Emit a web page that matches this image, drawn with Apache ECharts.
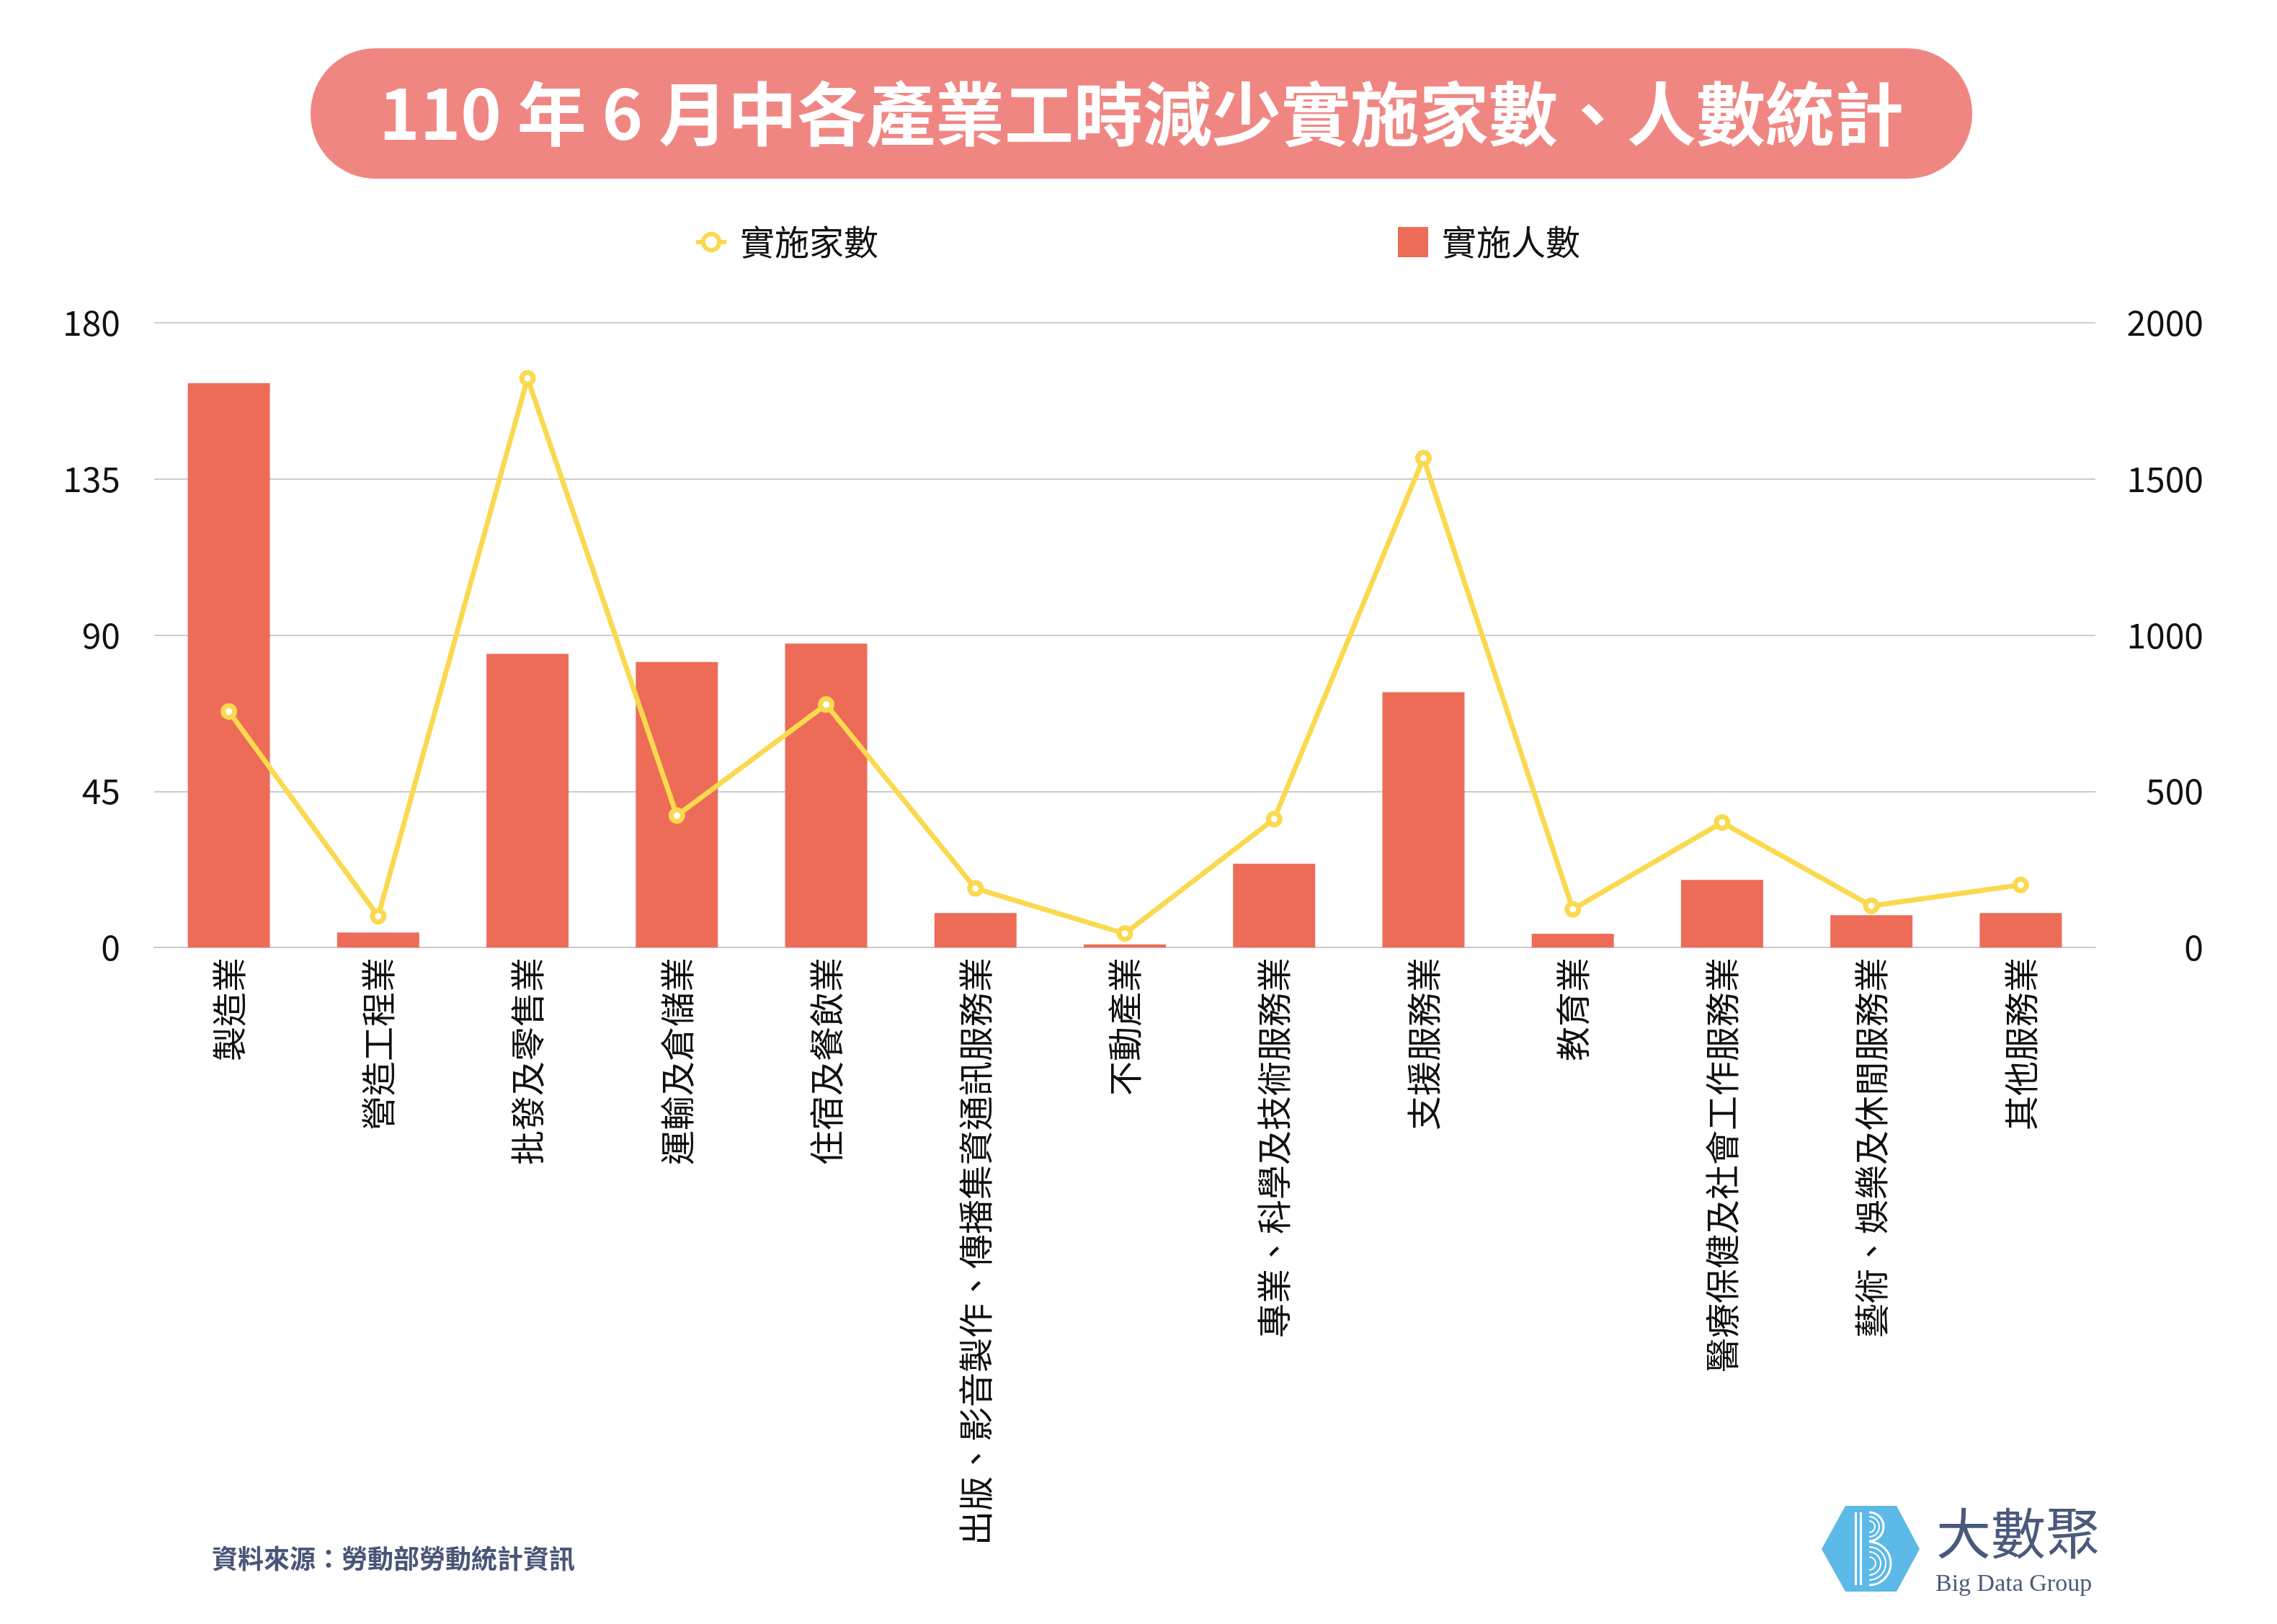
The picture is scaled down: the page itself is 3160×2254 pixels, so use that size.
<!DOCTYPE html>
<html>
<head>
<meta charset="utf-8">
<script src="https://cdn.jsdelivr.net/npm/echarts@6/dist/echarts.min.js"></script>
<style>
html,body{margin:0;padding:0;background:#fff;}
#chart{width:3160px;height:2254px;}
</style>
</head>
<body>
<div id="chart"></div>
<script>
var titleText = '110 年 6 月中各產業工時減少實施家數、人數統計';
var sourceText = '資料來源：勞動部勞動統計資訊';
var categories = ['製造業','營造工程業','批發及零售業','運輸及倉儲業','住宿及餐飲業','出版、影音製作、傳播集資通訊服務業','不動產業','專業、科學及技術服務業','支援服務業','教育業','醫療保健及社會工作服務業','藝術、娛樂及休閒服務業','其他服務業'];
var firmCounts = [68, 9, 164, 38, 70, 17, 4, 37, 141, 11, 36, 12, 18];
var workerCounts = [1807, 48, 940, 914, 973, 110, 10, 268, 817, 44, 216, 103, 110];
var leftTicks = [0, 45, 90, 135, 180];
var rightTicks = [0, 500, 1000, 1500, 2000];
var seriesNames = ['實施家數', '實施人數'];

var FONT = '"Noto Sans CJK TC", "Noto Sans", sans-serif';
var chart = echarts.init(document.getElementById('chart'));

var option = {
  backgroundColor: '#ffffff',
  textStyle: { fontFamily: FONT },
  legend: [
    {
      data: [seriesNames[0]],
      left: 958, top: 307,
      itemWidth: 42, itemHeight: 28,
      itemStyle: { borderWidth: 6 },
      lineStyle: { width: 6 },
      textStyle: { fontSize: 48, color: '#111', fontFamily: FONT, padding: [0,0,0,14] }
    },
    {
      data: [{ name: seriesNames[1], icon: 'rect' }],
      left: 1935, top: 307,
      itemWidth: 42, itemHeight: 42,
      textStyle: { fontSize: 48, color: '#111', fontFamily: FONT, padding: [0,0,0,14] }
    }
  ],
  grid: { left: 214, right: 252, top: 448, bottom: 939, containLabel: false },
  xAxis: {
    type: 'category',
    data: categories,
    axisLine: { lineStyle: { color: '#c8c8c8', width: 2 } },
    axisTick: { show: false },
    axisLabel: { rotate: 90, interval: 0, margin: 14, fontSize: 48, color: '#111', fontFamily: FONT }
  },
  yAxis: [
    {
      type: 'value', position: 'left',
      min: leftTicks[0], max: leftTicks[leftTicks.length - 1], interval: leftTicks[1] - leftTicks[0],
      axisLine: { show: false }, axisTick: { show: false },
      splitLine: { lineStyle: { color: '#cccccc', width: 2 } },
      axisLabel: { fontSize: 48, color: '#111', margin: 47, fontFamily: FONT, formatter: function (v) { return String(v); } }
    },
    {
      type: 'value', position: 'right',
      min: rightTicks[0], max: rightTicks[rightTicks.length - 1], interval: rightTicks[1] - rightTicks[0],
      axisLine: { show: false }, axisTick: { show: false },
      splitLine: { show: false },
      axisLabel: { fontSize: 48, color: '#111', margin: 150, align: 'right', fontFamily: FONT, formatter: function (v) { return String(v); } }
    }
  ],
  series: [
    {
      name: seriesNames[1],
      type: 'bar',
      yAxisIndex: 1,
      data: workerCounts,
      barWidth: '55%',
      itemStyle: { color: '#ec6c58' },
      z: 2
    },
    {
      name: seriesNames[0],
      type: 'line',
      yAxisIndex: 0,
      data: firmCounts,
      symbol: 'circle',
      symbolSize: 16,
      showAllSymbol: true,
      lineStyle: { color: '#fad94f', width: 7 },
      itemStyle: { color: '#ffffff', borderColor: '#fad94f', borderWidth: 7 },
      z: 5
    }
  ],
  graphic: [
    {
      type: 'rect', left: 431, top: 67, z: 10,
      shape: { width: 2306, height: 181, r: 90 },
      style: { fill: '#f08682' }
    },
    {
      type: 'text', z: 11,
      x: 1584, y: 158,
      style: {
        text: titleText, fill: '#ffffff', fontSize: 96, fontWeight: 'bold',
        fontFamily: FONT, align: 'center', verticalAlign: 'middle'
      }
    },
    {
      type: 'text', z: 11, x: 294, y: 2163,
      style: {
        text: sourceText, fill: '#4a5677', fontSize: 36, fontWeight: 'bold',
        fontFamily: FONT, align: 'left', verticalAlign: 'middle'
      }
    },
    {
      type: 'polygon', z: 11,
      shape: { points: [[2528,2150],[2561,2090],[2632,2090],[2664,2150],[2632,2209],[2561,2209]] },
      style: { fill: '#5db9e7' }
    },
    { type: 'rect', z: 12, shape: { x: 2574, y: 2099, width: 3, height: 101 }, style: { fill: '#fff' } },
    { type: 'rect', z: 12, shape: { x: 2581, y: 2099, width: 3, height: 101 }, style: { fill: '#fff' } },
    { type: 'arc', z: 12, shape: { cx: 2594, cy: 2119, r: 20, startAngle: -Math.PI/2, endAngle: Math.PI/2 }, style: { stroke: '#fff', lineWidth: 3, fill: null } },
    { type: 'arc', z: 12, shape: { cx: 2594, cy: 2119, r: 14, startAngle: -Math.PI/2, endAngle: Math.PI/2 }, style: { stroke: '#fff', lineWidth: 2, fill: null } },
    { type: 'arc', z: 12, shape: { cx: 2594, cy: 2119, r: 8, startAngle: -Math.PI/2, endAngle: Math.PI/2 }, style: { stroke: '#fff', lineWidth: 2, fill: null } },
    { type: 'arc', z: 12, shape: { cx: 2594, cy: 2170, r: 30, startAngle: -Math.PI/2, endAngle: Math.PI/2 }, style: { stroke: '#fff', lineWidth: 3, fill: null } },
    { type: 'arc', z: 12, shape: { cx: 2594, cy: 2170, r: 23, startAngle: -Math.PI/2, endAngle: Math.PI/2 }, style: { stroke: '#fff', lineWidth: 2, fill: null } },
    { type: 'arc', z: 12, shape: { cx: 2594, cy: 2170, r: 16, startAngle: -Math.PI/2, endAngle: Math.PI/2 }, style: { stroke: '#fff', lineWidth: 2, fill: null } },
    { type: 'arc', z: 12, shape: { cx: 2594, cy: 2170, r: 9, startAngle: -Math.PI/2, endAngle: Math.PI/2 }, style: { stroke: '#fff', lineWidth: 2, fill: null } },
    {
      type: 'text', z: 11, x: 2687, y: 2128,
      style: { text: '大數聚', fill: '#4b5a7b', fontSize: 76, fontFamily: FONT, align: 'left', verticalAlign: 'middle' }
    },
    {
      type: 'text', z: 11, x: 2686, y: 2199,
      style: { text: 'Big Data Group', fill: '#4b5a7b', fontSize: 34, fontFamily: '"Liberation Serif", "DejaVu Serif", serif', align: 'left', verticalAlign: 'middle' }
    }
  ]
};
chart.setOption(option);
</script>
</body>
</html>
